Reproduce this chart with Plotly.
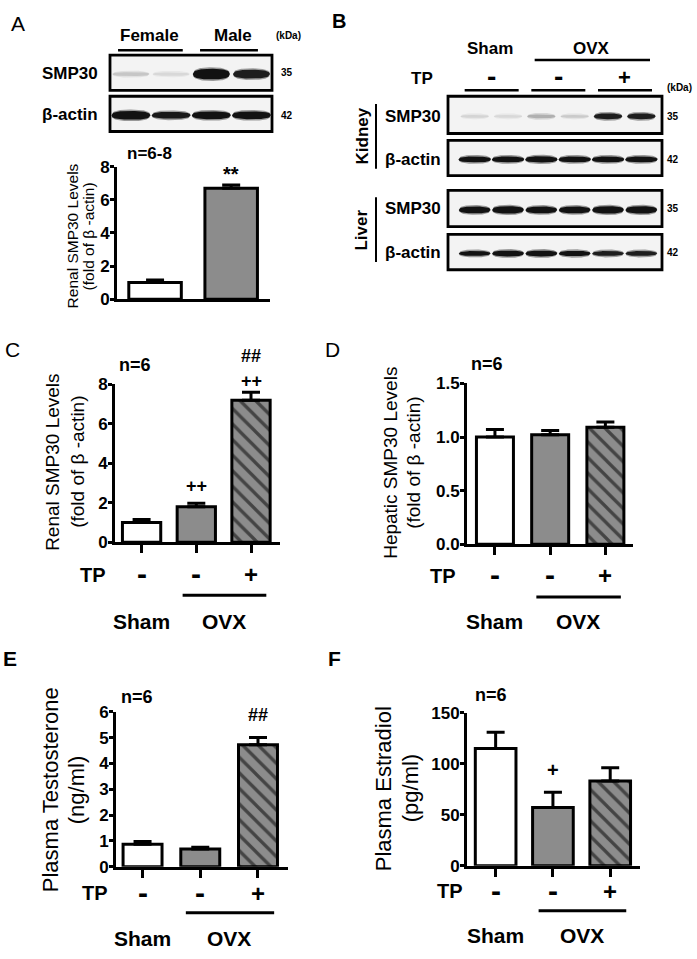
import numpy as np
import plotly.graph_objects as go

W, H = 697, 959
FONT = "Liberation Sans, Arial, Helvetica, sans-serif"

# ---------------- data ----------------
a_groups = ["Female", "Male"]
a_means = [1.0, 6.7]
a_sems = [0.15, 0.2]

tp_labels = ["-", "-", "+"]
group_labels = ["Sham", "OVX"]

c_means = [1.0, 1.8, 7.2]
c_sems = [0.15, 0.17, 0.4]
d_means = [1.0, 1.02, 1.09]
d_sems = [0.07, 0.04, 0.05]
e_means = [0.87, 0.68, 4.72]
e_sems = [0.10, 0.07, 0.28]
f_means = [115, 57, 83]
f_sems = [16, 15, 13]

# western blot band signal (relative darkness) and band thickness (px)
a_smp30_int = [0.20, 0.12, 1.0, 0.95]
a_smp30_thk = [4, 3.5, 11, 9]
a_actin_int = [1.0, 0.97, 1.0, 1.0]
a_actin_thk = [9, 7, 8, 8]
b_kid_smp30_int = [0.14, 0.12, 0.30, 0.18, 0.95, 0.95]
b_kid_smp30_thk = [3, 3, 4, 3, 6, 6]
b_kid_actin_int = [1.0, 1.0, 1.0, 1.0, 1.0, 1.0]
b_kid_actin_thk = [6, 6, 6.5, 6, 6, 6]
b_liv_smp30_int = [1.0, 1.0, 1.0, 1.0, 1.0, 1.0]
b_liv_smp30_thk = [7, 7.5, 7, 7, 7.5, 7.5]
b_liv_actin_int = [1.0, 1.0, 1.0, 1.0, 0.95, 0.95]
b_liv_actin_thk = [5, 6, 6, 5.5, 5, 5]

# ---------------- helpers ----------------
fig = go.Figure()
layout = dict(width=W, height=H, margin=dict(l=0, r=0, t=0, b=0), autosize=False,
              paper_bgcolor="white", plot_bgcolor="rgba(0,0,0,0)", showlegend=False,
              font=dict(family=FONT, color="black"))
annotations = []
shapes = []
naxes = [0]


def px_x(x):
    return x / W


def px_y(y):
    return 1 - y / H


def new_axes(x0, x1, y0, y1, xr, yr):
    naxes[0] += 1
    n = naxes[0]
    s = "" if n == 1 else str(n)
    layout["xaxis" + s] = dict(domain=[x0 / W, x1 / W], range=xr, anchor="y" + s,
                               visible=False, fixedrange=True)
    layout["yaxis" + s] = dict(domain=[1 - y1 / H, 1 - y0 / H], range=yr, anchor="x" + s,
                               visible=False, fixedrange=True)
    return "x" + s, "y" + s, s


def text(t, x, y, size, bold=True, xanchor="center", yanchor="middle", xref="paper", angle=0):
    xx = px_x(x) if xref == "paper" else x
    annotations.append(dict(text=t, x=xx, y=px_y(y), xref=xref, yref="paper",
                            xanchor=xanchor, yanchor=yanchor, showarrow=False, textangle=angle,
                            font=dict(size=size, family=FONT, color="black",
                                      weight="bold" if bold else "normal")))


def pm(lab, x, y, xref, size_plus, size_minus):
    # TP row symbols: the minus is drawn as a chunky dash like the original
    if lab == "-":
        text(lab, x, y - 1, size_minus, xref=xref)
    else:
        text(lab, x, y, size_plus, xref=xref)


def hline(x0, x1, y, xref="paper", width=2.5):
    if xref == "paper":
        x0, x1 = px_x(x0), px_x(x1)
    shapes.append(dict(type="line", xref=xref, yref="paper", x0=x0, x1=x1,
                       y0=px_y(y), y1=px_y(y), line=dict(color="black", width=width)))


def vline(x, y0, y1, width=2):
    shapes.append(dict(type="line", xref="paper", yref="paper", x0=px_x(x), x1=px_x(x),
                       y0=px_y(y0), y1=px_y(y1), line=dict(color="black", width=width)))


def blot(x0, x1, y0, y1, xr, intens, thks, wfrac=0.92, yfrac=0.46):
    xa, ya, s = new_axes(x0, x1, y0, y1, xr, [0, y1 - y0])
    shapes.append(dict(type="rect", xref="paper", yref="paper", x0=px_x(x0), x1=px_x(x1),
                       y0=px_y(y1), y1=px_y(y0), fillcolor="#f3f3f3",
                       line=dict(color="black", width=2.8), layer="below"))
    yc = (y1 - y0) * yfrac
    t = np.linspace(-1, 1, 41)
    prof = (1 - np.abs(t) ** 2.5) ** (1 / 2.5)
    for i, (v, th) in enumerate(zip(intens, thks)):
        g = 243 - v * (243 - 18)
        for extra, mix in ((3.0, 0.4), (0.0, 1.0)):
            gg = int(round(243 - (243 - g) * mix))
            half = (th + extra) / 2 * prof
            xs = i + t * wfrac / 2
            xp = np.concatenate([xs, xs[::-1]])
            yp = np.concatenate([yc + half, (yc - half)[::-1]])
            fig.add_trace(go.Scatter(x=xp, y=yp, mode="lines", fill="toself",
                                     fillcolor=f"rgb({gg},{gg},{gg})", line=dict(width=0),
                                     hoverinfo="skip", xaxis=xa, yaxis=ya))
    return xa, ya


def bar_panel(means, sems, fills, pats, x0, x1, y0, y1, xr, yr, tickvals, tickfmt=None,
              xticks=True, bar_w=0.69):
    xa, ya, s = new_axes(x0, x1, y0, y1, xr, yr)
    layout["xaxis" + s].update(visible=True, showline=True, linewidth=3, linecolor="black",
                               ticks="outside" if xticks else "", tickvals=list(range(len(means))),
                               ticklen=8, tickwidth=3, tickcolor="black", showticklabels=False,
                               showgrid=False, zeroline=False)
    layout["yaxis" + s].update(visible=True, showline=True, linewidth=3, linecolor="black",
                               ticks="outside", tickvals=tickvals, ticklen=4, tickwidth=3,
                               tickcolor="black", showgrid=False, zeroline=False,
                               tickformat=tickfmt, ticklabelstandoff=-3,
                               tickfont=dict(size=17, family=FONT, color="black", weight="bold"))
    fig.add_trace(go.Bar(
        x=list(range(len(means))), y=means, width=bar_w, xaxis=xa, yaxis=ya,
        marker=dict(color=fills, line=dict(color="black", width=3),
                    pattern=dict(shape=pats, fgcolor="black", fillmode="overlay", fgopacity=1,
                                 size=11, solidity=0.3)),
        error_y=dict(type="data", symmetric=False, array=sems, arrayminus=[0] * len(sems),
                     thickness=3, width=9, color="black"),
        hoverinfo="skip"))
    return xa, ya


def sig(xa, ya, idx, means, sems, t, shift, size=18):
    annotations.append(dict(text=t, x=idx, y=means[idx] + sems[idx], xref=xa, yref=ya,
                            yshift=shift, showarrow=False, xanchor="center", yanchor="middle",
                            font=dict(size=size, family=FONT, color="black", weight="bold")))


WHITE, GRAY = "white", "#8c8c8c"
fills3 = [WHITE, GRAY, GRAY]
pats3 = ["", "", "\\"]

# ---------------- Panel A ----------------
text("A", 18, 15, 21, bold=False)
xa, ya = blot(110, 272, 47, 83, [-0.52, 3.51], a_smp30_int, a_smp30_thk)
blot(110, 272, 89, 125, [-0.52, 3.51], a_actin_int, a_actin_thk, wfrac=0.97)
text(a_groups[0], 0.47, 27, 17, xref=xa)
text(a_groups[1], 2.54, 27, 17, xref=xa)
hline(-0.32, 1.29, 42, xref=xa)
hline(1.72, 3.16, 42, xref=xa)
text("SMP30", 100, 66, 17, xanchor="right")
text("β-actin", 100, 108, 17, xanchor="right")
text("(kDa)", 288, 27, 10)
text("35", 287, 65, 10)
text("42", 287, 109, 10)

xa, ya = bar_panel(a_means, a_sems, [WHITE, GRAY], ["", ""], 117, 270, 161, 296,
                   [-0.5, 1.51], [0, 8], [0, 2, 4, 6, 8], xticks=False, bar_w=0.69)
sig(xa, ya, 1, a_means, a_sems, "**", 11, size=20)
text("n=6-8", 149, 147, 17)
text("Renal SMP30 Levels", 72, 232, 15.5, bold=False, angle=-90)
text("(fold of β -actin)", 88, 232, 15.5, bold=False, angle=-90)

# ---------------- Panel B ----------------
text("B", 339, 12, 20)
bx = [-0.80, 5.62]
xk, yk = blot(448, 662, 89, 127, bx, b_kid_smp30_int, b_kid_smp30_thk, wfrac=0.85)
blot(448, 662, 134, 170, bx, b_kid_actin_int, b_kid_actin_thk, wfrac=0.97)
blot(448, 662, 185, 222, bx, b_liv_smp30_int, b_liv_smp30_thk, wfrac=0.95)
blot(448, 662, 230, 266, bx, b_liv_actin_int, b_liv_actin_thk, wfrac=0.95)
text(group_labels[0], 0.45, 40, 17, xref=xk)
text(group_labels[1], 3.5, 40, 17, xref=xk)
hline(1.8, 5.26, 52, xref=xk)
text("TP", 435, 71, 17, xanchor="right")
for p, lab in enumerate(tp_labels):
    pm(lab, 2 * p + 0.5, 70, xk, 22, 28)
    hline(2 * p - 0.3, 2 * p + 1.32, 83, xref=xk)
text("(kDa)", 694, 80, 10, xanchor="right")
for yy, lab in ((110, "SMP30"), (154, "β-actin"), (204, "SMP30"), (248, "β-actin")):
    text(lab, 383, yy, 17, xanchor="left")
for yy, lab in ((110, "35"), (154, "42"), (204, "35"), (248, "42")):
    text(lab, 673, yy, 10)
vline(376, 97, 163)
vline(376, 192, 258)
text("Kidney", 362, 130, 17, angle=-90)
text("Liver", 362, 226, 17, angle=-90)


def lower_labels(xa, tp_y, line_y, grp_y, tp_x):
    text("TP", tp_x, tp_y, 20, xanchor="right")
    for i, lab in enumerate(tp_labels):
        pm(lab, i, tp_y, xa, 24, 30)
    hline(0.75, 2.28, line_y, xref=xa, width=3)
    text(group_labels[0], 0, grp_y, 21, xref=xa)
    text(group_labels[1], 1.5, grp_y, 21, xref=xa)


# ---------------- Panel C ----------------
text("C", 12, 347, 21, bold=False)
xa, ya = bar_panel(c_means, c_sems, fills3, pats3, 115, 280, 383, 544,
                   [-0.486, 2.53], [0, 8], [0, 2, 4, 6, 8], bar_w=0.70)
sig(xa, ya, 1, c_means, c_sems, "++", 17)
sig(xa, ya, 2, c_means, c_sems, "++", 11)
sig(xa, ya, 2, c_means, c_sems, "##", 36)
text("n=6", 135, 363, 18)
text("Renal SMP30 Levels", 53, 462, 19, bold=False, angle=-90)
text("(fold of β -actin)", 78, 462, 19, bold=False, angle=-90)
lower_labels(xa, 577, 598, 625, 108)

# ---------------- Panel D ----------------
text("D", 332, 347, 21, bold=False)
xa, ya = bar_panel(d_means, d_sems, fills3, pats3, 467, 633, 382, 546,
                   [-0.506, 2.5], [0, 1.5], [0, 0.5, 1.0, 1.5], tickfmt=".1f", bar_w=0.67)
text("n=6", 487, 362, 18)
text("Hepatic SMP30 Levels", 391, 463, 19, bold=False, angle=-90)
text("(fold of β -actin)", 414, 463, 19, bold=False, angle=-90)
lower_labels(xa, 578, 600, 625, 458)

# ---------------- Panel E ----------------
text("E", 10, 663, 21)
xa, ya = bar_panel(e_means, e_sems, fills3, pats3, 116, 288, 717, 875,
                   [-0.46, 2.52], [0, 6], [0, 1, 2, 3, 4, 5, 6], bar_w=0.675)
sig(xa, ya, 2, e_means, e_sems, "##", 23)
text("n=6", 137, 702, 18)
text("Plasma Testosterone", 50, 797, 22, bold=False, angle=-90)
text("(ng/ml)", 76, 797, 22, bold=False, angle=-90)
lower_labels(xa, 902, 922, 948, 110)

# ---------------- Panel F ----------------
text("F", 334, 663, 21)
xa, ya = bar_panel(f_means, f_sems, fills3, pats3, 467, 640, 718, 874,
                   [-0.5, 2.52], [0, 150], [0, 50, 100, 150], bar_w=0.71)
sig(xa, ya, 1, f_means, f_sems, "+", 22, size=20)
text("n=6", 491, 700, 18)
text("Plasma Estradiol", 383, 795, 22, bold=False, angle=-90)
text("(pg/ml)", 410, 795, 22, bold=False, angle=-90)
lower_labels(xa, 900, 920, 945, 465)

layout["annotations"] = annotations
layout["shapes"] = shapes
fig.update_layout(**layout)
fig.write_html("out.html", config={"displayModeBar": False},
               post_script="document.body.style.margin='0px';"
                           "document.body.style.overflow='hidden';")
